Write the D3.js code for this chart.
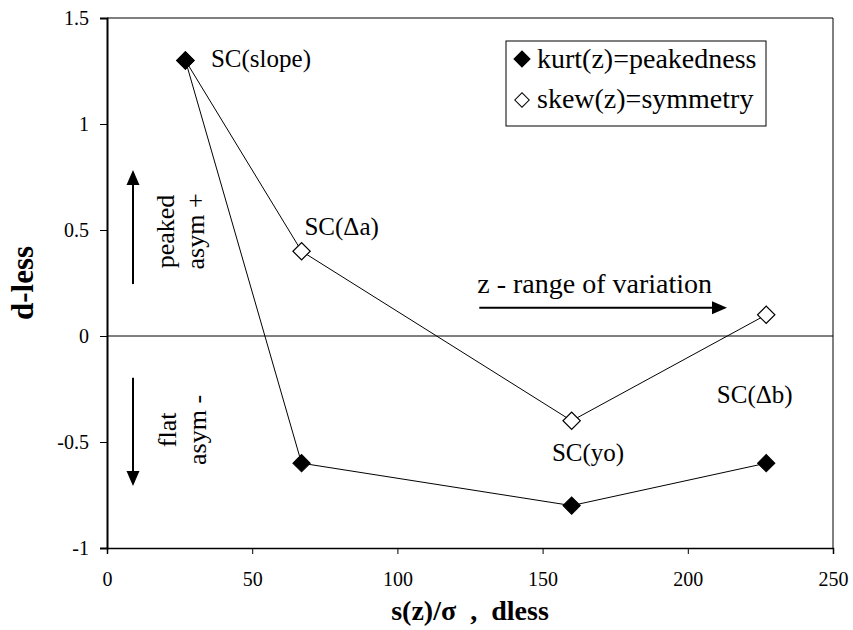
<!DOCTYPE html>
<html>
<head>
<meta charset="utf-8">
<script src="https://cdn.jsdelivr.net/npm/d3@7"></script>
<style>
  html, body { margin: 0; padding: 0; background: #fff; }
  svg { display: block; }
</style>
</head>
<body>
<svg id="chart" width="853" height="630"></svg>
<script>
// Series: x = s(z)/sigma, y = dimensionless moment
const xValues = [27, 67, 160, 227];
const kurtValues = [1.3, -0.6, -0.8, -0.6];
const skewValues = [1.3, 0.4, -0.4, 0.1];
const seriesNames = ["kurt(z)=peakedness", "skew(z)=symmetry"];

const xTicks = [0, 50, 100, 150, 200, 250];
const yTicks = [-1, -0.5, 0, 0.5, 1, 1.5];

// Point labels, in data units (x start, y baseline)
const pointLabels = [
  { text: "SC(slope)", x: 35.8, y: 1.27 },
  { text: "SC(\u0394a)", x: 68.0, y: 0.476 },
  { text: "SC(\u0394b)", x: 210.0, y: -0.316 },
  { text: "SC(yo)", x: 153.2, y: -0.59 }
];

const FONT = "Liberation Serif";

const svg = d3.select("#chart");
const margin = { left: 107, right: 20, top: 18, bottom: 82 };
const W = 853, H = 630;

const x = d3.scaleLinear().domain([0, 250]).range([margin.left, W - margin.right]);
const y = d3.scaleLinear().domain([-1, 1.5]).range([H - margin.bottom, margin.top]);

// draws a text element in the chart's serif face
function label(parent, str, size, bold) {
  const t = parent.append("text")
    .attr("font-family", FONT)
    .attr("font-size", size)
    .text(str);
  if (bold) t.attr("font-weight", "bold");
  return t;
}

// filled triangular arrowhead at (tx, ty) pointing along angle (radians)
function arrow(x1, y1, x2, y2) {
  const ang = Math.atan2(y2 - y1, x2 - x1);
  const len = 15, half = 6.5;
  const bx = x2 - len * Math.cos(ang), by = y2 - len * Math.sin(ang);
  svg.append("line")
    .attr("x1", x1).attr("y1", y1).attr("x2", bx).attr("y2", by)
    .attr("stroke", "#000").attr("stroke-width", 2);
  const px = -Math.sin(ang) * half, py = Math.cos(ang) * half;
  svg.append("path")
    .attr("d", `M${x2},${y2} L${bx + px},${by + py} L${bx - px},${by - py} Z`)
    .attr("fill", "#000");
}

// plot frame (top & right)
svg.append("path")
  .attr("d", `M${x(0)},${y(1.5)} H${x(250)} V${y(-1)}`)
  .attr("fill", "none").attr("stroke", "#000").attr("stroke-width", 1);

// zero line
svg.append("line")
  .attr("x1", x(0)).attr("x2", x(250))
  .attr("y1", y(0)).attr("y2", y(0))
  .attr("stroke", "#000").attr("stroke-width", 1);

// axes
const xAxis = d3.axisBottom(x).tickValues(xTicks).tickSize(6).tickPadding(18).tickFormat(d => String(d));
const gx = svg.append("g").attr("transform", `translate(0,${y(-1)})`).call(xAxis)
  .attr("font-family", FONT).attr("font-size", 20);
gx.select(".domain").attr("stroke-width", 1.5);
gx.selectAll(".tick line").attr("stroke-width", 1);

const yAxis = d3.axisLeft(y).tickValues(yTicks).tickSize(7).tickPadding(11).tickFormat(d => String(d));
const gy = svg.append("g").attr("transform", `translate(${x(0)},0)`).call(yAxis)
  .attr("font-family", FONT).attr("font-size", 20);
gy.select(".domain").attr("stroke-width", 2);
gy.selectAll(".tick line").attr("stroke-width", 1);

// axis titles
label(svg, "s(z)/\u03c3\u00a0\u00a0,\u00a0\u00a0dless", 28, true)
  .attr("x", (x(0) + x(250)) / 2).attr("y", 620)
  .attr("text-anchor", "middle");

label(svg, "d-less", 31, true)
  .attr("transform", `translate(33,${(y(-1) + y(1.5)) / 2}) rotate(-90)`)
  .attr("text-anchor", "middle");

// series lines
const line = d3.line().x(d => x(d[0])).y(d => y(d[1]));
const kurtPts = xValues.map((v, i) => [v, kurtValues[i]]);
const skewPts = xValues.map((v, i) => [v, skewValues[i]]);

svg.append("path").attr("d", line(kurtPts)).attr("fill", "none").attr("stroke", "#000").attr("stroke-width", 1);
svg.append("path").attr("d", line(skewPts)).attr("fill", "none").attr("stroke", "#000").attr("stroke-width", 1);

// diamond markers
const diamond = d3.symbol().type(d3.symbolSquare).size(150);
svg.append("g").selectAll("path").data(skewPts).join("path")
  .attr("d", diamond)
  .attr("transform", d => `translate(${x(d[0])},${y(d[1])}) rotate(45)`)
  .attr("fill", "#fff").attr("stroke", "#000").attr("stroke-width", 1.2);
svg.append("g").selectAll("path").data(kurtPts).join("path")
  .attr("d", diamond)
  .attr("transform", d => `translate(${x(d[0])},${y(d[1])}) rotate(45)`)
  .attr("fill", "#000").attr("stroke", "#000").attr("stroke-width", 1);

// point labels
pointLabels.forEach(d => {
  label(svg, d.text, 25).attr("x", x(d.x)).attr("y", y(d.y));
});

// z range arrow and caption
label(svg, "z - range of variation", 28).attr("x", x(127.5)).attr("y", y(0.203));
arrow(x(128.2), y(0.133), x(213.5), y(0.133));

// vertical direction arrows
arrow(x(8.95), y(0.245), x(8.95), y(0.783));
arrow(x(8.95), y(-0.197), x(8.95), y(-0.708));

const sideText = [
  { text: "peaked", xb: 174, y: 0.493 },
  { text: "asym +", xb: 204, y: 0.493 },
  { text: "flat", xb: 176, y: -0.443 },
  { text: "asym -", xb: 206, y: -0.443 }
];
sideText.forEach(d => {
  label(svg, d.text.replace(" ", "\u00a0"), 26)
    .attr("transform", `translate(${d.xb},${y(d.y)}) rotate(-90)`)
    .attr("text-anchor", "middle");
});

// legend
const lg = svg.append("g");
lg.append("rect")
  .attr("x", 506).attr("y", 41).attr("width", 260).attr("height", 85)
  .attr("fill", "#fff").attr("stroke", "#000").attr("stroke-width", 1);
const legendItems = [
  { name: seriesNames[0], fill: "#000", cy: 59, base: 68, size: 130 },
  { name: seriesNames[1], fill: "#fff", cy: 100, base: 108, size: 105 }
];
legendItems.forEach(it => {
  lg.append("path")
    .attr("d", d3.symbol().type(d3.symbolSquare).size(it.size))
    .attr("transform", `translate(522,${it.cy}) rotate(45)`)
    .attr("fill", it.fill).attr("stroke", "#000").attr("stroke-width", 1);
  label(lg, it.name, 28).attr("x", 537).attr("y", it.base);
});
</script>
</body>
</html>
